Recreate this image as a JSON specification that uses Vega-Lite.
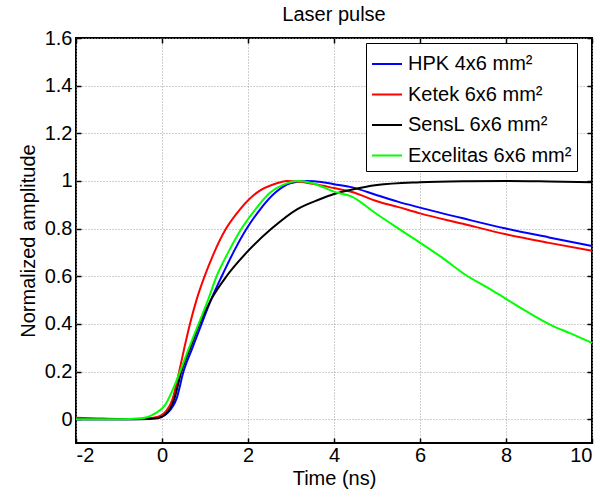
{
  "$schema": "https://vega.github.io/schema/vega-lite/v6.json",
  "autosize": {"type": "none"},
  "width": 516,
  "height": 405,
  "padding": {"left": 76, "top": 38, "right": 22, "bottom": 52},
  "background": "white",
  "config": {
    "font": "Liberation Sans",
    "view": {"stroke": "black", "strokeWidth": 2},
    "axis": {
      "domain": false,
      "tickColor": "black", "tickWidth": 1.5, "tickSize": -5,
      "labelFont": "Liberation Sans", "labelFontSize": 20, "labelColor": "black",
      "titleFont": "Liberation Sans", "titleFontSize": 20, "titleFontWeight": "normal", "titleColor": "black",
      "gridColor": "#a0a0a0", "gridDash": [1, 2], "gridWidth": 1
    }
  },
  "title": {"text": "Laser pulse", "fontSize": 20, "fontWeight": "normal", "font": "Liberation Sans", "color": "black", "offset": 3},
  "data": {"values": [
    {"s":"HPK 4x6 mm²","t":-2,"v":0},{"s":"HPK 4x6 mm²","t":-1,"v":0},{"s":"HPK 4x6 mm²","t":-0.5,"v":0.001},{"s":"HPK 4x6 mm²","t":-0.1,"v":0.006},{"s":"HPK 4x6 mm²","t":0.15,"v":0.03},{"s":"HPK 4x6 mm²","t":0.34,"v":0.087},{"s":"HPK 4x6 mm²","t":0.5,"v":0.2},{"s":"HPK 4x6 mm²","t":0.71,"v":0.3},{"s":"HPK 4x6 mm²","t":0.92,"v":0.4},{"s":"HPK 4x6 mm²","t":1.15,"v":0.505},{"s":"HPK 4x6 mm²","t":1.39,"v":0.6},{"s":"HPK 4x6 mm²","t":1.66,"v":0.7},{"s":"HPK 4x6 mm²","t":1.97,"v":0.8},{"s":"HPK 4x6 mm²","t":2.28,"v":0.88},{"s":"HPK 4x6 mm²","t":2.63,"v":0.95},{"s":"HPK 4x6 mm²","t":2.98,"v":0.99},{"s":"HPK 4x6 mm²","t":3.36,"v":1.0},{"s":"HPK 4x6 mm²","t":3.7,"v":0.996},{"s":"HPK 4x6 mm²","t":4.0,"v":0.986},{"s":"HPK 4x6 mm²","t":4.4,"v":0.974},{"s":"HPK 4x6 mm²","t":5.0,"v":0.94},{"s":"HPK 4x6 mm²","t":5.5,"v":0.912},{"s":"HPK 4x6 mm²","t":6.0,"v":0.888},{"s":"HPK 4x6 mm²","t":7.0,"v":0.843},{"s":"HPK 4x6 mm²","t":8.0,"v":0.8},{"s":"HPK 4x6 mm²","t":9.0,"v":0.763},{"s":"HPK 4x6 mm²","t":10.0,"v":0.727},
    {"s":"Ketek 6x6 mm²","t":-2,"v":0.006},{"s":"Ketek 6x6 mm²","t":-1.5,"v":0.003},{"s":"Ketek 6x6 mm²","t":-1,"v":0.001},{"s":"Ketek 6x6 mm²","t":-0.5,"v":0.002},{"s":"Ketek 6x6 mm²","t":-0.2,"v":0.006},{"s":"Ketek 6x6 mm²","t":0,"v":0.018},{"s":"Ketek 6x6 mm²","t":0.1,"v":0.035},{"s":"Ketek 6x6 mm²","t":0.25,"v":0.087},{"s":"Ketek 6x6 mm²","t":0.4,"v":0.2},{"s":"Ketek 6x6 mm²","t":0.52,"v":0.3},{"s":"Ketek 6x6 mm²","t":0.65,"v":0.4},{"s":"Ketek 6x6 mm²","t":0.81,"v":0.505},{"s":"Ketek 6x6 mm²","t":0.97,"v":0.59},{"s":"Ketek 6x6 mm²","t":1.19,"v":0.69},{"s":"Ketek 6x6 mm²","t":1.49,"v":0.8},{"s":"Ketek 6x6 mm²","t":1.81,"v":0.88},{"s":"Ketek 6x6 mm²","t":2.2,"v":0.95},{"s":"Ketek 6x6 mm²","t":2.67,"v":0.99},{"s":"Ketek 6x6 mm²","t":2.9,"v":1.0},{"s":"Ketek 6x6 mm²","t":3.2,"v":0.997},{"s":"Ketek 6x6 mm²","t":3.6,"v":0.985},{"s":"Ketek 6x6 mm²","t":4.0,"v":0.97},{"s":"Ketek 6x6 mm²","t":4.4,"v":0.955},{"s":"Ketek 6x6 mm²","t":5.0,"v":0.915},{"s":"Ketek 6x6 mm²","t":5.5,"v":0.89},{"s":"Ketek 6x6 mm²","t":6.0,"v":0.864},{"s":"Ketek 6x6 mm²","t":7.0,"v":0.82},{"s":"Ketek 6x6 mm²","t":8.0,"v":0.776},{"s":"Ketek 6x6 mm²","t":9.0,"v":0.74},{"s":"Ketek 6x6 mm²","t":10.0,"v":0.707},
    {"s":"SensL 6x6 mm²","t":-2,"v":0},{"s":"SensL 6x6 mm²","t":-1,"v":0},{"s":"SensL 6x6 mm²","t":-0.5,"v":0},{"s":"SensL 6x6 mm²","t":-0.1,"v":0.004},{"s":"SensL 6x6 mm²","t":0.08,"v":0.02},{"s":"SensL 6x6 mm²","t":0.29,"v":0.087},{"s":"SensL 6x6 mm²","t":0.45,"v":0.2},{"s":"SensL 6x6 mm²","t":0.66,"v":0.3},{"s":"SensL 6x6 mm²","t":0.87,"v":0.4},{"s":"SensL 6x6 mm²","t":1.15,"v":0.505},{"s":"SensL 6x6 mm²","t":1.5,"v":0.6},{"s":"SensL 6x6 mm²","t":1.97,"v":0.7},{"s":"SensL 6x6 mm²","t":2.55,"v":0.8},{"s":"SensL 6x6 mm²","t":3.13,"v":0.88},{"s":"SensL 6x6 mm²","t":3.67,"v":0.923},{"s":"SensL 6x6 mm²","t":4.0,"v":0.945},{"s":"SensL 6x6 mm²","t":4.4,"v":0.963},{"s":"SensL 6x6 mm²","t":5.0,"v":0.983},{"s":"SensL 6x6 mm²","t":6.0,"v":0.995},{"s":"SensL 6x6 mm²","t":7.0,"v":0.999},{"s":"SensL 6x6 mm²","t":8.0,"v":1.0},{"s":"SensL 6x6 mm²","t":9.0,"v":0.998},{"s":"SensL 6x6 mm²","t":10.0,"v":0.995},
    {"s":"Excelitas 6x6 mm²","t":-2,"v":0},{"s":"Excelitas 6x6 mm²","t":-1,"v":0},{"s":"Excelitas 6x6 mm²","t":-0.5,"v":0.003},{"s":"Excelitas 6x6 mm²","t":-0.16,"v":0.024},{"s":"Excelitas 6x6 mm²","t":0.07,"v":0.059},{"s":"Excelitas 6x6 mm²","t":0.26,"v":0.128},{"s":"Excelitas 6x6 mm²","t":0.42,"v":0.2},{"s":"Excelitas 6x6 mm²","t":0.63,"v":0.3},{"s":"Excelitas 6x6 mm²","t":0.85,"v":0.4},{"s":"Excelitas 6x6 mm²","t":1.08,"v":0.505},{"s":"Excelitas 6x6 mm²","t":1.27,"v":0.6},{"s":"Excelitas 6x6 mm²","t":1.54,"v":0.7},{"s":"Excelitas 6x6 mm²","t":1.85,"v":0.8},{"s":"Excelitas 6x6 mm²","t":2.17,"v":0.88},{"s":"Excelitas 6x6 mm²","t":2.51,"v":0.95},{"s":"Excelitas 6x6 mm²","t":2.9,"v":0.99},{"s":"Excelitas 6x6 mm²","t":3.16,"v":1.0},{"s":"Excelitas 6x6 mm²","t":3.5,"v":0.99},{"s":"Excelitas 6x6 mm²","t":3.8,"v":0.97},{"s":"Excelitas 6x6 mm²","t":4.0,"v":0.955},{"s":"Excelitas 6x6 mm²","t":4.4,"v":0.935},{"s":"Excelitas 6x6 mm²","t":5.0,"v":0.86},{"s":"Excelitas 6x6 mm²","t":5.5,"v":0.8},{"s":"Excelitas 6x6 mm²","t":6.0,"v":0.741},{"s":"Excelitas 6x6 mm²","t":6.5,"v":0.68},{"s":"Excelitas 6x6 mm²","t":7.09,"v":0.602},{"s":"Excelitas 6x6 mm²","t":7.5,"v":0.56},{"s":"Excelitas 6x6 mm²","t":8.0,"v":0.505},{"s":"Excelitas 6x6 mm²","t":8.5,"v":0.45},{"s":"Excelitas 6x6 mm²","t":9.07,"v":0.393},{"s":"Excelitas 6x6 mm²","t":9.5,"v":0.36},{"s":"Excelitas 6x6 mm²","t":10.0,"v":0.32}
  ]},
  "layer": [
    {
      "mark": {"type": "line", "interpolate": "monotone", "strokeWidth": 2},
      "encoding": {
        "x": {"field": "t", "type": "quantitative", "title": "Time (ns)", "scale": {"domain": [-2, 10], "nice": false, "zero": false},
          "axis": {"values": [-2, 0, 2, 4, 6, 8, 10], "labelExpr": "'' + datum.value", "labelPadding": 7, "titlePadding": 3, "grid": true}},
        "y": {"field": "v", "type": "quantitative", "title": "Normalized amplitude", "scale": {"domain": [-0.1, 1.6], "nice": false, "zero": false},
          "axis": {"values": [0, 0.2, 0.4, 0.6, 0.8, 1, 1.2, 1.4, 1.6], "labelExpr": "'' + datum.value", "labelPadding": 9, "titlePadding": 6, "grid": true}},
        "color": {"field": "s", "type": "nominal",
          "scale": {"domain": ["HPK 4x6 mm²", "Ketek 6x6 mm²", "SensL 6x6 mm²", "Excelitas 6x6 mm²"], "range": ["#0000ff", "#ff0000", "#000000", "#00ff00"]},
          "legend": {"title": null, "orient": "none", "legendX": 290, "legendY": 5, "symbolType": "stroke", "symbolSize": 900, "symbolStrokeWidth": 2,
            "labelFontSize": 20, "labelFont": "Liberation Sans", "labelColor": "black", "labelLimit": 400, "labelOffset": 5, "rowPadding": 4.5,
            "strokeColor": "black", "fillColor": "white", "padding": 5}}
      }
    },
    {
      "mark": {"type": "point", "opacity": 0},
      "encoding": {
        "x": {"field": "t", "type": "quantitative", "axis": {"orient": "top", "title": null, "labels": false, "grid": false, "values": [-2, 0, 2, 4, 6, 8, 10]}},
        "y": {"field": "v", "type": "quantitative", "axis": {"orient": "right", "title": null, "labels": false, "grid": false, "values": [0, 0.2, 0.4, 0.6, 0.8, 1, 1.2, 1.4, 1.6]}}
      }
    }
  ],
  "resolve": {"axis": {"x": "independent", "y": "independent"}}
}
